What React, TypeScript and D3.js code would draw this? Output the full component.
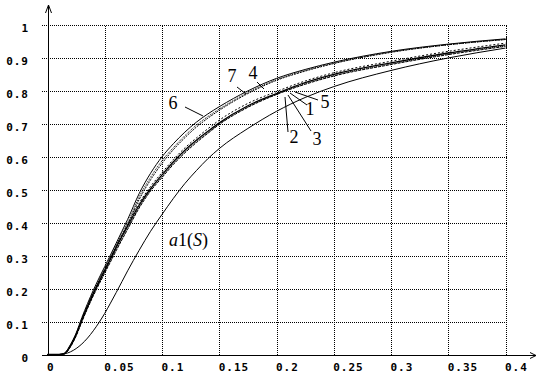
import React from "react";
import * as d3 from "d3";

const S = [0, 0.01, 0.015, 0.02, 0.025, 0.03, 0.035, 0.04, 0.045, 0.05, 0.055, 0.06, 0.065, 0.07, 0.08, 0.09, 0.1, 0.11, 0.12, 0.13, 0.14, 0.15, 0.175, 0.2, 0.225, 0.25, 0.3, 0.35, 0.4];

const curve6 = [0, 0, 0.005, 0.03, 0.065, 0.112, 0.155, 0.195, 0.232, 0.267, 0.302, 0.338, 0.374, 0.41, 0.488, 0.55, 0.6, 0.64, 0.675, 0.705, 0.73, 0.752, 0.8, 0.838, 0.865, 0.887, 0.92, 0.942, 0.958];
const curve7 = [0, 0, 0.004, 0.028, 0.062, 0.108, 0.15, 0.19, 0.226, 0.261, 0.296, 0.332, 0.367, 0.4, 0.478, 0.538, 0.588, 0.628, 0.664, 0.696, 0.722, 0.745, 0.795, 0.834, 0.862, 0.884, 0.918, 0.94, 0.956];
const curve4 = [0, 0, 0.004, 0.027, 0.06, 0.106, 0.148, 0.187, 0.222, 0.257, 0.291, 0.327, 0.361, 0.394, 0.47, 0.53, 0.58, 0.622, 0.658, 0.69, 0.717, 0.741, 0.792, 0.832, 0.86, 0.883, 0.917, 0.94, 0.956];
const curve1 = [0, 0, 0.003, 0.025, 0.06, 0.104, 0.145, 0.184, 0.22, 0.255, 0.29, 0.325, 0.358, 0.39, 0.453, 0.503, 0.545, 0.585, 0.62, 0.65, 0.677, 0.703, 0.755, 0.792, 0.825, 0.85, 0.885, 0.915, 0.94];
const curve2 = [0, 0, 0.003, 0.024, 0.058, 0.101, 0.142, 0.181, 0.216, 0.25, 0.284, 0.318, 0.351, 0.383, 0.447, 0.499, 0.54, 0.58, 0.615, 0.646, 0.673, 0.7, 0.752, 0.79, 0.822, 0.847, 0.882, 0.912, 0.937];
const curve3 = [0, 0, 0.002, 0.023, 0.056, 0.099, 0.14, 0.178, 0.213, 0.247, 0.281, 0.315, 0.348, 0.38, 0.444, 0.496, 0.537, 0.577, 0.612, 0.643, 0.671, 0.698, 0.75, 0.789, 0.82, 0.845, 0.88, 0.91, 0.935];
const curve5 = [0, 0, 0.003, 0.026, 0.061, 0.106, 0.147, 0.187, 0.223, 0.258, 0.293, 0.328, 0.362, 0.395, 0.459, 0.51, 0.552, 0.592, 0.627, 0.657, 0.685, 0.711, 0.762, 0.798, 0.83, 0.855, 0.89, 0.92, 0.945];
const curveA1 = [0, 0, 0.002, 0.008, 0.018, 0.032, 0.05, 0.072, 0.097, 0.125, 0.156, 0.188, 0.221, 0.254, 0.316, 0.374, 0.425, 0.474, 0.519, 0.558, 0.594, 0.625, 0.686, 0.738, 0.78, 0.813, 0.862, 0.9, 0.93];

const xTicks = [0, 0.05, 0.1, 0.15, 0.2, 0.25, 0.3, 0.35, 0.4];
const xTickLabels = ["0", "0.05", "0.1", "0.15", "0.2", "0.25", "0.3", "0.35", "0.4"];
const yTicks = [0, 0.1, 0.2, 0.3, 0.4, 0.5, 0.6, 0.7, 0.8, 0.9, 1];
const yTickLabels = ["0", "0.1", "0.2", "0.3", "0.4", "0.5", "0.6", "0.7", "0.8", "0.9", "1"];

const series = [
  { name: "6", values: curve6, dash: "none", width: 1 },
  { name: "7", values: curve7, dash: "1,1", width: 1 },
  { name: "4", values: curve4, dash: "2,1", width: 1 },
  { name: "1", values: curve1, dash: "none", width: 1.3 },
  { name: "2", values: curve2, dash: "1,1", width: 1 },
  { name: "3", values: curve3, dash: "3,1", width: 1 },
  { name: "5", values: curve5, dash: "2,2", width: 1 },
  { name: "a1", values: curveA1, dash: "none", width: 1 },
];

// label positions (text anchor) and leader lines, in pixel space
const labels = [
  { text: "6", x: 173, y: 109, line: [185, 107, 203, 116] },
  { text: "7", x: 232, y: 82, line: [237, 87, 246, 94] },
  { text: "4", x: 253, y: 79, line: [257, 82, 264, 89] },
  { text: "5", x: 325, y: 108, line: [295, 92, 318, 100] },
  { text: "1", x: 310, y: 115, line: [290, 93, 307, 105] },
  { text: "3", x: 317, y: 145, line: [288, 95, 311, 131] },
  { text: "2", x: 294, y: 143, line: [285, 97, 288, 132] },
];

export default function App() {
  const W = 544;
  const H = 380;
  const x = d3.scaleLinear().domain([0, 0.4]).range([47.5, 505.5]);
  const y = d3.scaleLinear().domain([0, 1]).range([354.5, 25]);
  const line = d3
    .line<number>()
    .x((_, i) => x(S[i]))
    .y((d) => y(d))
    .curve(d3.curveMonotoneX);

  const lastVals = series.map((s) => s.values[s.values.length - 1]);
  const tickFont = "'DejaVu Sans Mono', monospace";
  const px = (v: number) => Math.round(v) + 0.5;

  return (
    <svg
      width={W}
      height={H}
      style={{ position: "absolute", left: 0, top: 0, background: "#fff" }}
    >
      {/* horizontal grid */}
      {yTicks.slice(1).map((t) => (
        <line
          key={"h" + t}
          x1={42}
          x2={px(x(0.4))}
          y1={px(y(t))}
          y2={px(y(t))}
          stroke="#000"
          strokeDasharray="1,1"
          shapeRendering="crispEdges"
        />
      ))}
      {/* vertical grid */}
      {xTicks.slice(1).map((t) => (
        <line
          key={"v" + t}
          x1={px(x(t))}
          x2={px(x(t))}
          y1={px(y(1))}
          y2={px(y(0))}
          stroke="#000"
          strokeDasharray="1,1"
          shapeRendering="crispEdges"
        />
      ))}
      {/* curves */}
      <g fill="none" stroke="#000">
        {series.map((s) => (
          <path
            key={s.name}
            d={line(s.values) || ""}
            strokeWidth={s.width}
            strokeDasharray={s.dash}
          />
        ))}
        <line
          x1={px(x(0.4))}
          x2={px(x(0.4))}
          y1={y(d3.max(lastVals)! + 0.008)}
          y2={y(d3.min(lastVals)!)}
          strokeWidth={1}
        />
      </g>
      {/* axes */}
      <g stroke="#000" fill="none" strokeWidth={1}>
        <line x1={px(x(0))} x2={px(x(0))} y1={y(0)} y2={5} />
        <path d={`M${px(x(0)) - 3},13 L${px(x(0))},5 L${px(x(0)) + 3},13`} />
        <line x1={42} x2={536} y1={px(y(0))} y2={px(y(0))} />
        <path d={`M530,${px(y(0)) - 3} L536,${px(y(0))} L530,${px(y(0)) + 3}`} />
      </g>
      {/* tick labels */}
      <g fontFamily={tickFont} fontWeight="bold" fontSize={11} fill="#000">
        {xTicks.map((t, i) => (
          <text key={"xt" + t} x={x(t) - 0.5} y={371} letterSpacing={1}>
            {xTickLabels[i]}
          </text>
        ))}
        {yTicks.map((t, i) => (
          <text
            key={"yt" + t}
            x={29}
            y={y(t) + 7}
            textAnchor="end"
            letterSpacing={1}
          >
            {yTickLabels[i]}
          </text>
        ))}
      </g>
      {/* curve labels */}
      <g fontFamily="'Liberation Serif', serif" fontSize={18} fill="#000">
        {labels.map((l) => (
          <g key={"lab" + l.text}>
            <text x={l.x} y={l.y} textAnchor="middle">
              {l.text}
            </text>
            <line
              x1={l.line[0]}
              y1={l.line[1]}
              x2={l.line[2]}
              y2={l.line[3]}
              stroke="#000"
              strokeWidth={1}
            />
          </g>
        ))}
        <text x={169} y={246}>
          <tspan fontStyle="italic">a</tspan>
          <tspan>1(</tspan>
          <tspan fontStyle="italic">S</tspan>
          <tspan>)</tspan>
        </text>
      </g>
    </svg>
  );
}
